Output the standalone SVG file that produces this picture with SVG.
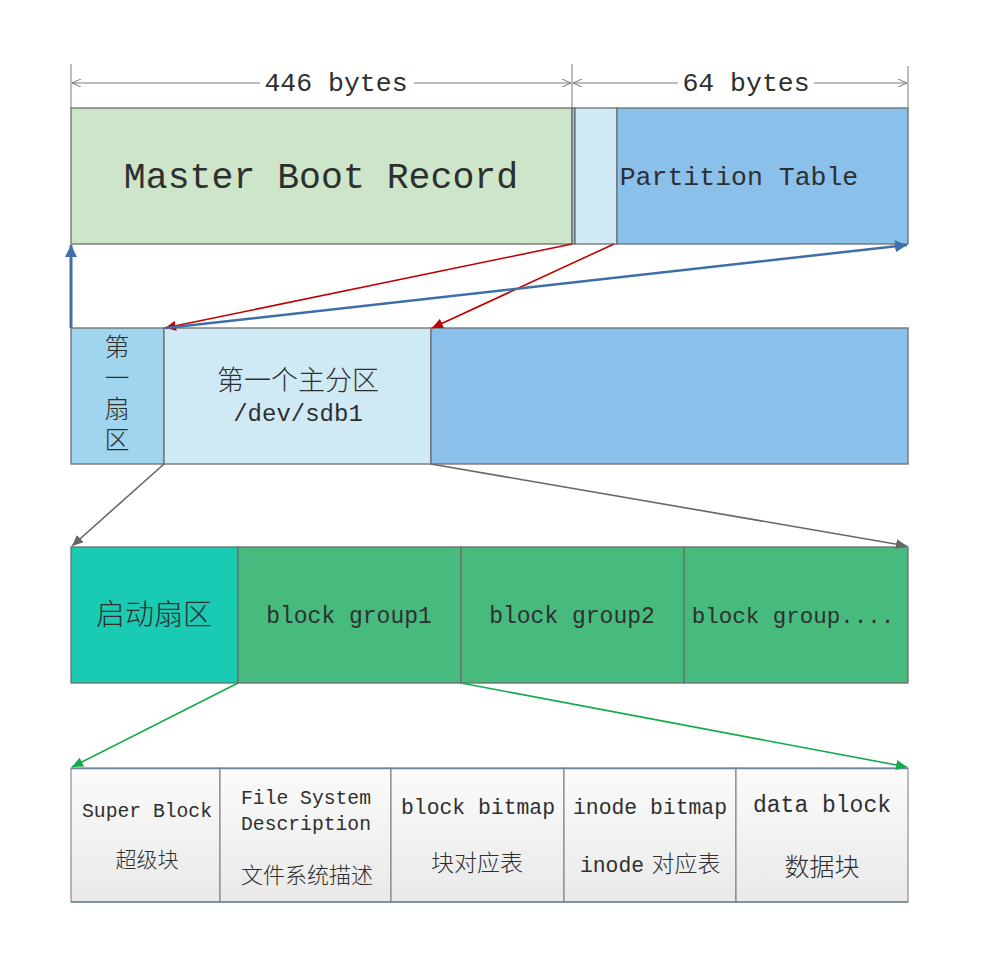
<svg xmlns="http://www.w3.org/2000/svg" width="981" height="962" viewBox="0 0 981 962">
<defs>
<style>
.box{stroke:#6e6e6e;stroke-width:1.3}
.t{font-family:"Liberation Mono","Noto Sans CJK SC",monospace;fill:#2f2f2f;text-anchor:middle}
.c{font-family:"Noto Sans CJK SC","Liberation Mono",sans-serif;fill:#2f2f2f;text-anchor:middle;font-weight:300}
.dim{stroke:#7a7a7a;stroke-width:1;fill:none}
.cell{fill:url(#g);stroke:#777;stroke-width:1}
</style>
<linearGradient id="g" x1="0" y1="0" x2="0" y2="1"><stop offset="0" stop-color="#fbfbfb"/><stop offset="1" stop-color="#e9e9e9"/></linearGradient>
<marker id="ad" markerWidth="10" markerHeight="8" refX="9" refY="4" orient="auto" markerUnits="userSpaceOnUse"><path d="M0,0 L9,4 L0,8" fill="none" stroke="#7a7a7a" stroke-width="1"/></marker>
<marker id="ar" markerWidth="12" markerHeight="10" refX="11" refY="5" orient="auto" markerUnits="userSpaceOnUse"><path d="M0,0 L11,5 L0,10 Z" fill="#c00000"/></marker>
<marker id="ab" markerWidth="13" markerHeight="12" refX="12" refY="6" orient="auto" markerUnits="userSpaceOnUse"><path d="M0,0 L12,6 L0,12 Z" fill="#3e6fa6"/></marker>
<marker id="ag" markerWidth="12" markerHeight="10" refX="11" refY="5" orient="auto" markerUnits="userSpaceOnUse"><path d="M0,0 L11,5 L0,10 Z" fill="#666"/></marker>
<marker id="aG" markerWidth="12" markerHeight="10" refX="11" refY="5" orient="auto" markerUnits="userSpaceOnUse"><path d="M0,0 L11,5 L0,10 Z" fill="#13aa4a"/></marker>
</defs>

<g id="dimensions">
<line class="dim" x1="71" y1="64" x2="71" y2="108"/>
<line class="dim" x1="572" y1="64" x2="572" y2="108"/>
<line class="dim" x1="908" y1="66" x2="908" y2="108"/>
<line class="dim" x1="260" y1="83" x2="72" y2="83" marker-end="url(#ad)"/>
<line class="dim" x1="414" y1="83" x2="571" y2="83" marker-end="url(#ad)"/>
<line class="dim" x1="678" y1="83" x2="573" y2="83" marker-end="url(#ad)"/>
<line class="dim" x1="814" y1="83" x2="907" y2="83" marker-end="url(#ad)"/>
<text class="t" x="336" y="91" font-size="26.5">446 bytes</text>
<text class="t" x="746" y="91" font-size="26.5">64 bytes</text>
</g>

<g id="mbr">
<rect class="box" x="71" y="108" width="501" height="136" fill="#cde5c8"/>
<text class="t" x="321" y="188" font-size="36.5">Master Boot Record</text>
</g>
<g id="strip"><rect class="box" x="572" y="108" width="3" height="136" fill="#8bc0ea"/></g>
<g id="gap"><rect class="box" x="575" y="108" width="42" height="136" fill="#cfe9f5"/></g>
<g id="partition-table">
<rect class="box" x="617" y="108" width="291" height="136" fill="#8bc0ea"/>
<text class="t" x="739" y="185" font-size="26.5">Partition Table</text>
</g>

<g id="first-sector">
<rect class="box" x="71" y="328" width="93" height="136" fill="#9fd5ee"/>
<text class="c" x="117" y="334" font-size="25" style="writing-mode:vertical-rl;text-anchor:start" letter-spacing="6">第一扇区</text>
</g>
<g id="sdb1">
<rect class="box" x="164" y="328" width="267" height="136" fill="#cfe9f5"/>
<text class="c" x="298" y="390" font-size="27">第一个主分区</text>
<text class="t" x="298" y="421" font-size="24">/dev/sdb1</text>
</g>
<g id="rest">
<rect class="box" x="431" y="328" width="477" height="136" fill="#8bc0ea"/>
</g>

<g id="boot-sector">
<rect class="box" x="71" y="547" width="167" height="136" fill="#19cbb3"/>
<text class="c" x="154" y="625" font-size="29">启动扇区</text>
</g>
<g id="bg1">
<rect class="box" x="238" y="547" width="223" height="136" fill="#47bb7e"/>
<text class="t" x="349" y="623" font-size="23">block group1</text>
</g>
<g id="bg2">
<rect class="box" x="461" y="547" width="223" height="136" fill="#47bb7e"/>
<text class="t" x="572" y="623" font-size="23">block group2</text>
</g>
<g id="bg3">
<rect class="box" x="684" y="547" width="224" height="136" fill="#47bb7e"/>
<text class="t" x="793" y="623" font-size="22.5">block group....</text>
</g>

<g id="superblock">
<rect class="cell" x="71" y="768" width="149" height="134"/>
<text class="t" x="147" y="817" font-size="19.7">Super Block</text>
<text class="c" x="147" y="867" font-size="21">超级块</text>
</g>
<g id="fsd">
<rect class="cell" x="220" y="768" width="171" height="134"/>
<text class="t" x="306" y="804" font-size="19.7">File System</text>
<text class="t" x="306" y="830" font-size="19.7">Description</text>
<text class="c" x="307" y="883" font-size="22">文件系统描述</text>
</g>
<g id="blockbitmap">
<rect class="cell" x="391" y="768" width="173" height="134"/>
<text class="t" x="478" y="814" font-size="21.4">block bitmap</text>
<text class="c" x="477" y="871" font-size="23">块对应表</text>
</g>
<g id="inodebitmap">
<rect class="cell" x="564" y="768" width="172" height="134"/>
<text class="t" x="650" y="814" font-size="21.4">inode bitmap</text>
<text class="t" x="612" y="872" font-size="21.4">inode</text>
<text class="c" x="686" y="872" font-size="23">对应表</text>
</g>
<g id="datablock">
<rect class="cell" x="736" y="768" width="172" height="134"/>
<text class="t" x="822" y="812" font-size="23">data block</text>
<text class="c" x="822" y="876" font-size="25">数据块</text>
</g>
<line x1="71" y1="768.5" x2="908" y2="768.5" stroke="#6b86a3" stroke-width="1.5"/>
<line x1="71" y1="902" x2="908" y2="902" stroke="#6b86a3" stroke-width="1.5"/>

<g id="connectors" fill="none">
<line x1="71" y1="328" x2="71" y2="245" stroke="#3e6fa6" stroke-width="3" marker-end="url(#ab)"/>
<line x1="572" y1="244" x2="165" y2="328" stroke="#c00000" stroke-width="1.6" marker-end="url(#ar)"/>
<line x1="614" y1="244" x2="432" y2="328" stroke="#c00000" stroke-width="1.6" marker-end="url(#ar)"/>
<line x1="166" y1="328" x2="907" y2="245" stroke="#3e6fa6" stroke-width="2.5" marker-end="url(#ab)"/>
<line x1="164" y1="464" x2="72" y2="546" stroke="#666" stroke-width="1.6" marker-end="url(#ag)"/>
<line x1="431" y1="464" x2="907" y2="546" stroke="#666" stroke-width="1.6" marker-end="url(#ag)"/>
<line x1="238" y1="683" x2="72" y2="767" stroke="#13aa4a" stroke-width="1.6" marker-end="url(#aG)"/>
<line x1="461" y1="683" x2="907" y2="767" stroke="#13aa4a" stroke-width="1.6" marker-end="url(#aG)"/>
</g>
</svg>
